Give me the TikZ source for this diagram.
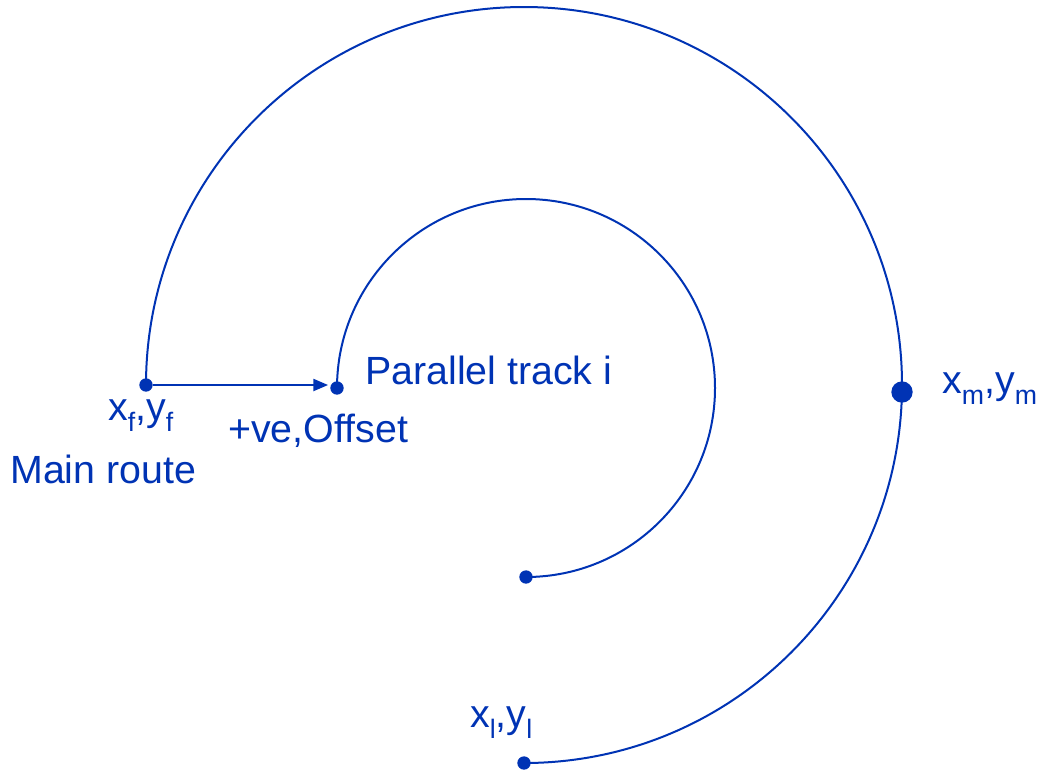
\documentclass[tikz,border=0pt]{standalone}
\usepackage{fontspec}
\setmainfont{Liberation Sans}
\usetikzlibrary{arrows.meta,positioning}
\definecolor{trackBlue}{RGB}{0,51,180}
\newcommand{\lowSub}[1]{\raisebox{-0.28em}{\fontsize{20}{20}\selectfont #1}}

\begin{document}
\begin{tikzpicture}[
    x=0.75pt, y=0.75pt,
    font=\fontsize{29.5}{34}\selectfont,
    trackLine/.style={
        line width=1.5pt, draw=trackBlue
    },
    dotSmall/.style={
        circle, fill=trackBlue, inner sep=0pt, minimum size=10pt
    },
    dotBig/.style={
        circle, fill=trackBlue, inner sep=0pt, minimum size=16pt
    },
    offsetArrow/.style={
        -{Triangle[length=11pt, width=9pt]}, line width=1.5pt, draw=trackBlue, shorten >=1.5pt
    },
    pointLabel/.style={
        text=trackBlue, inner sep=0pt, anchor=base west
    }
]
\useasboundingbox (0,0) rectangle (1038,-776);

% Points on the main route and on the parallel track
\node[dotSmall] (first) at (146,-385) {};
\node[dotSmall] (offset) at (337,-388) {};
\node[dotBig] (mid) at (902,-392) {};
\node[dotSmall] (trackEnd) at (526,-577) {};
\node[dotSmall] (last) at (524,-763) {};

% Main route (outer arc) and parallel track i (inner arc)
\draw[trackLine] (first.center) arc[start angle=180, end angle=-90, radius=378];
\draw[trackLine] (offset.center) arc[start angle=180, end angle=-90, radius=189];

% Offset from main route to parallel track
\draw[offsetArrow] (first) -- (offset.west |- first);

% Labels
\node[pointLabel] (firstLabel) at (108,-420) {x\lowSub{f},y\lowSub{f}};
\node[pointLabel] (offsetLabel) at (228,-442) {+ve,Offset};
\node[pointLabel] (routeLabel) at (10,-483) {Main route};
\node[pointLabel] (trackLabel) at (365,-384) {Parallel track i};
\node[pointLabel] (midLabel) at (942,-393) {x\lowSub{m},y\lowSub{m}};
\node[pointLabel] (lastLabel) at (470,-727) {x\lowSub{l},y\lowSub{l}};

\end{tikzpicture}
\end{document}
